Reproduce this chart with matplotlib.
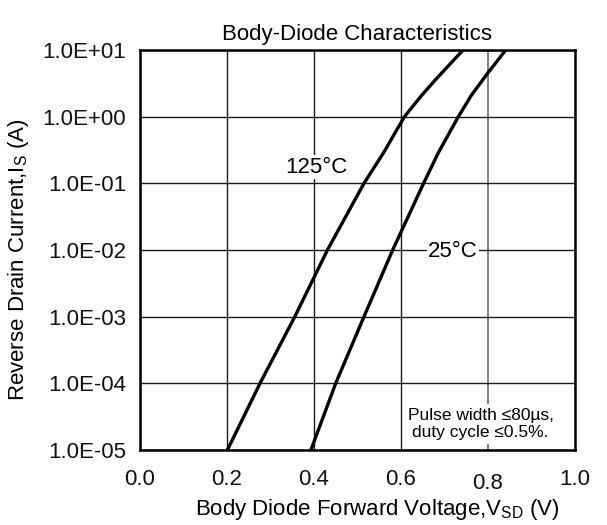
import numpy as np
import matplotlib
matplotlib.use('Agg')
import matplotlib.pyplot as plt
import matplotlib.transforms as mtransforms

plt.rcParams['font.family'] = ['Liberation Sans', 'DejaVu Sans']
plt.rcParams['mathtext.fontset'] = 'custom'
plt.rcParams['mathtext.rm'] = 'Liberation Sans'

# curves (V, A)
v_125 = [0.201, 0.276, 0.356, 0.431, 0.515, 0.560, 0.608, 0.648, 0.682, 0.743]
i_125 = [1e-5, 1e-4, 1e-3, 1e-2, 1e-1, 0.288, 1.0, 2.1, 3.74, 10.0]
v_25 = [0.393, 0.450, 0.515, 0.581, 0.652, 0.686, 0.732, 0.762, 0.799, 0.841]
i_25 = [1e-5, 1e-4, 1e-3, 1e-2, 1e-1, 0.288, 1.0, 2.1, 4.45, 10.0]

x_ticks = [0.0, 0.2, 0.4, 0.6, 0.8, 1.0]
x_labels = ['0.0', '0.2', '0.4', '0.6', '0.8', '1.0']
y_ticks = [1e-5, 1e-4, 1e-3, 1e-2, 1e-1, 1e0, 1e1]
y_labels = ['1.0E-05', '1.0E-04', '1.0E-03', '1.0E-02', '1.0E-01', '1.0E+00', '1.0E+01']

fig = plt.figure(figsize=(6.07, 5.25), dpi=100)
ax = fig.add_axes([0.2306, 0.1429, 0.7166, 0.7619])

ax.plot(v_125, i_125, color='black', lw=2.4, solid_joinstyle='round')
ax.plot(v_25, i_25, color='black', lw=2.4, solid_joinstyle='round')

ax.set_yscale('log')
ax.set_xlim(0, 1.0)
ax.set_ylim(1e-5, 1e1)
ax.set_xticks(x_ticks)
ax.set_xticklabels(x_labels)
ax.set_yticks(y_ticks)
ax.set_yticklabels(y_labels)
ax.minorticks_off()
ax.tick_params(length=0, labelsize=16, colors='#111111')
ax.tick_params(axis='x', pad=14)
ax.tick_params(axis='y', pad=10)

# the 0.8 label sits a little lower in the reference
lab = ax.get_xticklabels()[4]
lab.set_transform(lab.get_transform() + mtransforms.ScaledTranslation(0, -4 / 100, fig.dpi_scale_trans))

ax.grid(True, color='#1a1a1a', lw=1.0)
ax.xaxis.get_gridlines()[4].set_color('#808080')
ax.xaxis.get_gridlines()[4].set_linewidth(1.4)
ax.set_axisbelow(True)
for s in ax.spines.values():
    s.set_linewidth(1.8)
    s.set_color('black')

ax.set_title('Body-Diode Characteristics', fontsize=16, pad=7)
ax.set_xlabel('Body Diode Forward Voltage,V$_{\\rm SD}$ (V)', fontsize=16)
ax.set_ylabel('Reverse Drain Current,I$_{\\rm S}$ (A)', fontsize=16)
ax.xaxis.set_label_coords(0.545, -0.118)
ax.yaxis.set_label_coords(-0.25, 0.475)

bbox = dict(facecolor='white', edgecolor='none', pad=1)
ax.text(0.405, 10**-0.76, '125°C', fontsize=16, ha='center', va='center', bbox=bbox)
ax.text(0.720, 10**-2.02, '25°C', fontsize=16, ha='center', va='center', bbox=bbox)
ax.text(0.783, 10**-4.61, 'Pulse width \u226480\u00b5s,\nduty cycle \u22640.5%.', fontsize=12.5,
        ha='center', va='center', linespacing=1.15,
        bbox=dict(facecolor='white', edgecolor='none', pad=3))

fig.savefig('out.png', dpi=100)
